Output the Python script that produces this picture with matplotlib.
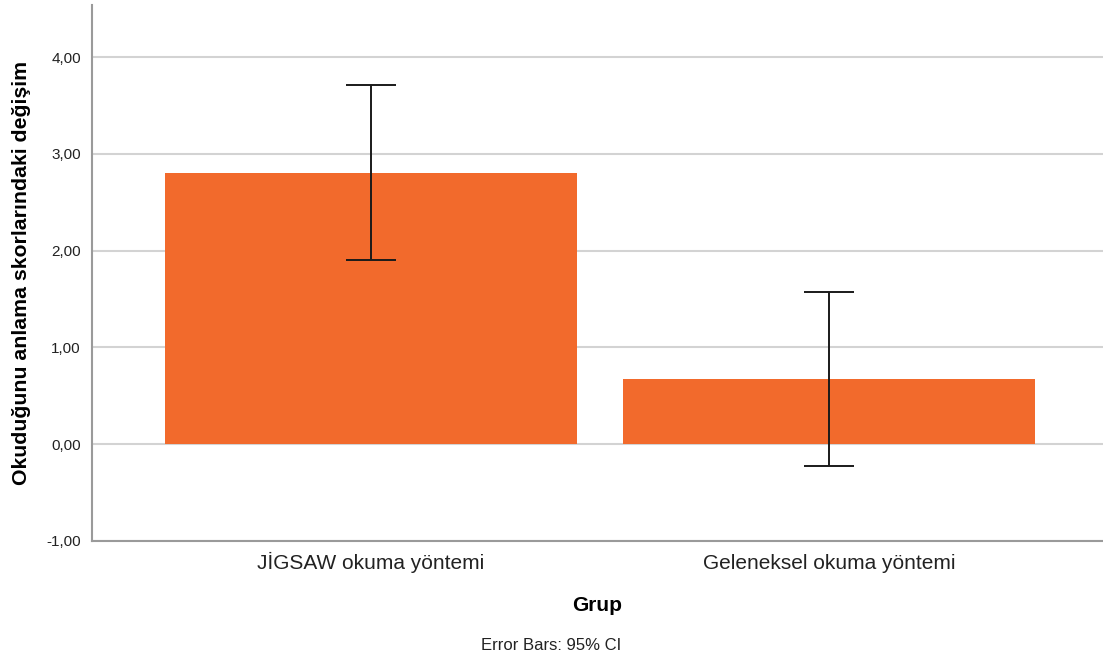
import matplotlib
matplotlib.use("Agg")
import matplotlib.pyplot as plt
from matplotlib.ticker import FuncFormatter

plt.rcParams['font.family'] = ['Liberation Sans', 'DejaVu Sans']

groups = ["JİGSAW okuma yöntemi", "Geleneksel okuma yöntemi"]
means = [2.80, 0.67]
ci_low = [1.90, -0.22]
ci_high = [3.71, 1.57]
y_ticks = [-1, 0, 1, 2, 3, 4]

fig = plt.figure(figsize=(11.03, 6.64), dpi=100)
ax = fig.add_axes([92 / 1103, 1 - 541 / 664, 1 - 92 / 1103, (541 - 5) / 664])

x = list(range(len(groups)))
yerr = [[m - lo for m, lo in zip(means, ci_low)],
        [hi - m for m, hi in zip(means, ci_high)]]

ax.bar(x, means, width=0.9, color="#F26A2C", zorder=2)
ax.errorbar(x, means, yerr=yerr, fmt="none", ecolor="#1a1a1a", elinewidth=1.4,
            capsize=18, capthick=1.4, zorder=3)

ax.set_xlim(-0.609, 1.598)
ax.set_ylim(-1, 4.54)
ax.set_yticks(y_ticks)
ax.yaxis.set_major_formatter(FuncFormatter(lambda v, p: f"{v:.2f}".replace(".", ",")))
ax.set_xticks(x)
ax.set_xticklabels(groups, fontsize=15, color="#222222", va="baseline")
ax.tick_params(axis="y", labelsize=11, colors="#222222", length=0, pad=8)
ax.tick_params(axis="x", length=0, pad=20)

ax.grid(axis="y", color="#d3d3d3", linewidth=1.5, zorder=0)
ax.set_axisbelow(True)
for side in ("top", "right"):
    ax.spines[side].set_visible(False)
for side in ("left", "bottom"):
    ax.spines[side].set_color("#9a9a9a")
    ax.spines[side].set_linewidth(1.5)

ax.set_xlabel("Grup", fontsize=15, fontweight="bold", labelpad=17)
ax.set_ylabel("Okuduğunu anlama skorlarındaki değişim", fontsize=15.3,
              fontweight="bold", labelpad=11)

fig.text(0.5, 1 - 646 / 664, "Error Bars: 95% CI", ha="center", va="center",
         fontsize=12, color="#222222")

fig.savefig("out.png", dpi=100)
